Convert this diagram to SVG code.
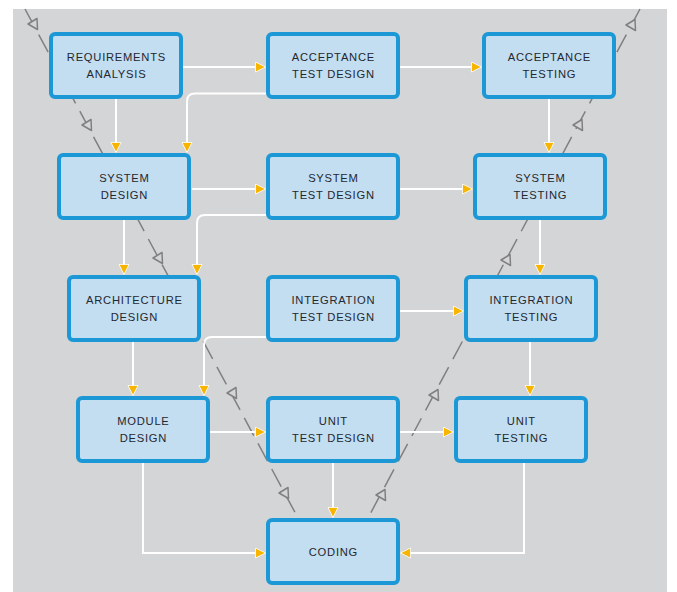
<svg xmlns="http://www.w3.org/2000/svg" xmlns:xlink="http://www.w3.org/1999/xlink" width="677" height="592" viewBox="0 0 677 592">
<style>
.bg{fill:#d4d5d7}
.box{fill:#c3ddf1;stroke:#1b98d5;stroke-width:4}
.lbl{font-family:"Liberation Sans",Arial,sans-serif;font-size:11.2px;letter-spacing:0.75px;fill:#23272e;text-anchor:middle}
.conn{fill:none;stroke:#ffffff;stroke-width:2}
.ver{fill:none;stroke:#808080;stroke-width:1.5;stroke-dasharray:20 9}
.tri{fill:#d4d5d7;stroke:#808080;stroke-width:1.5;stroke-linejoin:round}
</style>
<defs>
<marker id="arr" markerUnits="userSpaceOnUse" markerWidth="12" markerHeight="12" refX="10" refY="5.5" orient="auto">
<path d="M0.5,0.5 L10.5,5.5 L0.5,10.5 Z" fill="#f7b500" stroke="#ffffff" stroke-width="0.8"/>
</marker>
<polygon id="tr" points="-5,0 4,-5.5 4.5,5.5"/>
</defs>
<rect class="bg" x="13" y="9" width="654" height="583"/>
<g id="verification">
<line class="ver" x1="25" y1="9" x2="298" y2="518"/>
<line class="ver" x1="640" y1="9" x2="368" y2="518"/>
<use href="#tr" class="tri" x="33" y="24"/>
<use href="#tr" class="tri" x="87" y="125"/>
<use href="#tr" class="tri" x="158" y="258"/>
<use href="#tr" class="tri" x="232" y="393"/>
<use href="#tr" class="tri" x="284" y="493"/>
<use href="#tr" class="tri" x="631" y="25"/>
<use href="#tr" class="tri" x="578" y="125"/>
<use href="#tr" class="tri" x="506" y="260"/>
<use href="#tr" class="tri" x="434" y="395"/>
<use href="#tr" class="tri" x="381" y="495"/>
</g>
<g id="connectors">
<path class="conn" marker-end="url(#arr)" d="M183,67 H265"/>
<path class="conn" marker-end="url(#arr)" d="M400,67 H481"/>
<path class="conn" marker-end="url(#arr)" d="M116,99 V152"/>
<path class="conn" marker-end="url(#arr)" d="M266,93.5 H195 Q187,93.5 187,101.5 V152"/>
<path class="conn" marker-end="url(#arr)" d="M549,99 V152"/>
<path class="conn" marker-end="url(#arr)" d="M192,189 H265"/>
<path class="conn" marker-end="url(#arr)" d="M400,189 H472"/>
<path class="conn" marker-end="url(#arr)" d="M266,215 H205 Q197,215 197,223 V274"/>
<path class="conn" marker-end="url(#arr)" d="M124,220 V274"/>
<path class="conn" marker-end="url(#arr)" d="M540,220 V274"/>
<path class="conn" marker-end="url(#arr)" d="M400,311 H463"/>
<path class="conn" marker-end="url(#arr)" d="M266,337 H212 Q204,337 204,345 V395"/>
<path class="conn" marker-end="url(#arr)" d="M133,342 V395"/>
<path class="conn" marker-end="url(#arr)" d="M530,342 V395"/>
<path class="conn" marker-end="url(#arr)" d="M210,432 H265"/>
<path class="conn" marker-end="url(#arr)" d="M400,432 H453"/>
<path class="conn" marker-end="url(#arr)" d="M333,463 V517"/>
<path class="conn" marker-end="url(#arr)" d="M143,463 V553 H265"/>
<path class="conn" marker-end="url(#arr)" d="M524,463 V553 H401"/>
</g>
<g id="requirements-analysis"><rect class="box" x="51" y="34" width="130" height="63" rx="4"/><text class="lbl" x="116.4" y="61">REQUIREMENTS</text><text class="lbl" x="116.4" y="78">ANALYSIS</text></g>
<g id="acceptance-test-design"><rect class="box" x="268" y="34" width="130" height="63" rx="4"/><text class="lbl" x="333.4" y="61">ACCEPTANCE</text><text class="lbl" x="333.4" y="78">TEST DESIGN</text></g>
<g id="acceptance-testing"><rect class="box" x="484" y="34" width="130" height="63" rx="4"/><text class="lbl" x="549.4" y="61">ACCEPTANCE</text><text class="lbl" x="549.4" y="78">TESTING</text></g>
<g id="system-design"><rect class="box" x="59" y="155" width="130" height="63" rx="4"/><text class="lbl" x="124.4" y="182">SYSTEM</text><text class="lbl" x="124.4" y="199">DESIGN</text></g>
<g id="system-test-design"><rect class="box" x="268" y="155" width="130" height="63" rx="4"/><text class="lbl" x="333.4" y="182">SYSTEM</text><text class="lbl" x="333.4" y="199">TEST DESIGN</text></g>
<g id="system-testing"><rect class="box" x="475" y="155" width="130" height="63" rx="4"/><text class="lbl" x="540.4" y="182">SYSTEM</text><text class="lbl" x="540.4" y="199">TESTING</text></g>
<g id="architecture-design"><rect class="box" x="69" y="277" width="130" height="63" rx="4"/><text class="lbl" x="134.4" y="304">ARCHITECTURE</text><text class="lbl" x="134.4" y="321">DESIGN</text></g>
<g id="integration-test-design"><rect class="box" x="268" y="277" width="130" height="63" rx="4"/><text class="lbl" x="333.4" y="304">INTEGRATION</text><text class="lbl" x="333.4" y="321">TEST DESIGN</text></g>
<g id="integration-testing"><rect class="box" x="466" y="277" width="130" height="63" rx="4"/><text class="lbl" x="531.4" y="304">INTEGRATION</text><text class="lbl" x="531.4" y="321">TESTING</text></g>
<g id="module-design"><rect class="box" x="78" y="398" width="130" height="63" rx="4"/><text class="lbl" x="143.4" y="425">MODULE</text><text class="lbl" x="143.4" y="442">DESIGN</text></g>
<g id="unit-test-design"><rect class="box" x="268" y="398" width="130" height="63" rx="4"/><text class="lbl" x="333.4" y="425">UNIT</text><text class="lbl" x="333.4" y="442">TEST DESIGN</text></g>
<g id="unit-testing"><rect class="box" x="456" y="398" width="130" height="63" rx="4"/><text class="lbl" x="521.4" y="425">UNIT</text><text class="lbl" x="521.4" y="442">TESTING</text></g>
<g id="coding"><rect class="box" x="268" y="520" width="130" height="63" rx="4"/><text class="lbl" x="333.4" y="556">CODING</text></g>
</svg>
